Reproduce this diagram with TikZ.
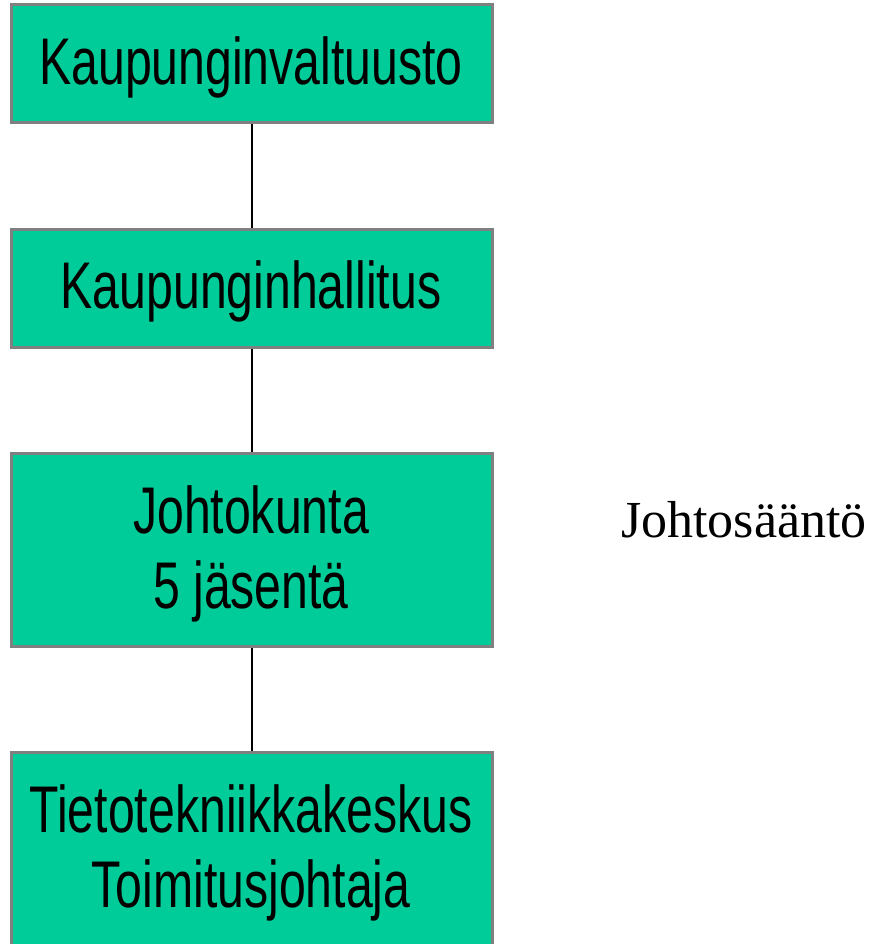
\documentclass[tikz,border=0pt]{standalone}
\usepackage{fontspec}
\newfontfamily\boxfont{Liberation Sans}[FakeStretch=0.73]
\newfontfamily\notefont{Liberation Serif}
\definecolor{orgfill}{HTML}{00CC99}
\definecolor{orgedge}{HTML}{808080}
\begin{document}
\begin{tikzpicture}[x=1pt,y=-1pt,
  orgbox/.style={draw=orgedge,line width=3pt,fill=orgfill},
  boxtext/.style={anchor=base,inner sep=0pt,font=\boxfont\fontsize{66}{66}\selectfont},
  link/.style={line width=2pt,black}]
\useasboundingbox[fill=white] (0,0) rectangle (876,944);
% organisation boxes
\path[orgbox] (11,5) rectangle (492,123);
\path[orgbox] (11,229) rectangle (492,347);
\path[orgbox] (11,453) rectangle (492,646);
\path[orgbox] (11,752) rectangle (492,960);
\coordinate (b1s) at (252,124.5);
\coordinate (b2n) at (252,227.5);
\coordinate (b2s) at (252,348.5);
\coordinate (b3n) at (252,451.5);
\coordinate (b3s) at (252,647.5);
\coordinate (b4n) at (252,750.5);
\draw[link] (b1s) -- (b2n);
\draw[link] (b2s) -- (b3n);
\draw[link] (b3s) -- (b4n);
% box labels
\node[boxtext] (t1) at (251,85) {Kaupunginvaltuusto};
\node[boxtext] (t2) at (251,308) {Kaupunginhallitus};
\node[boxtext] (t3a) at (251,533) {Johtokunta};
\node[boxtext] (t3b) at (251,608) {5 jäsentä};
\node[boxtext] (t4a) at (251,832) {Tietotekniikkakeskus};
\node[boxtext] (t4b) at (251,907) {Toimitusjohtaja};
% side note
\node[anchor=base,inner sep=0pt,font=\notefont\fontsize{52}{52}\selectfont] (note) at (744,537) {Johtosääntö};
\end{tikzpicture}
\end{document}
